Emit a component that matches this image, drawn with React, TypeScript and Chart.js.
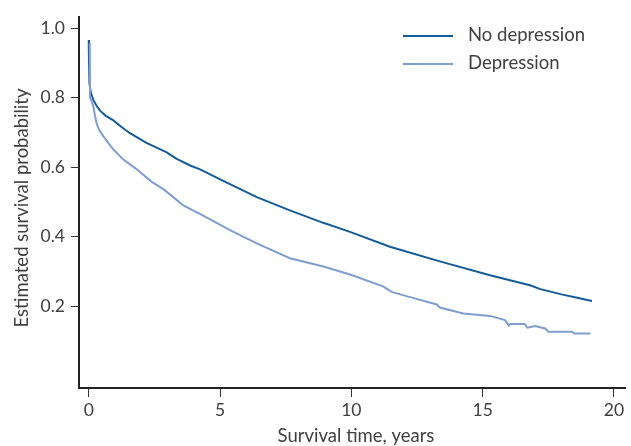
import React, { useEffect, useRef } from "react";
import { Chart, registerables } from "chart.js";

Chart.register(...registerables);

const noDepTime = [0, 0.01, 0.03, 0.08, 0.18, 0.3, 0.43, 0.65, 0.94, 1.25, 1.57, 2.2, 2.97, 3.35, 3.86, 4.24, 5.12, 6.4, 7.66, 8.93, 9.95, 11.47, 13.37, 15.28, 16.8, 17.2, 18.0, 18.6, 19.16];
const noDepSurv = [0.966, 0.905, 0.84, 0.815, 0.793, 0.777, 0.763, 0.748, 0.735, 0.716, 0.698, 0.67, 0.643, 0.624, 0.605, 0.594, 0.561, 0.514, 0.476, 0.44, 0.414, 0.371, 0.329, 0.289, 0.26, 0.249, 0.234, 0.224, 0.215];

const depTime = [0.04, 0.05, 0.1, 0.18, 0.24, 0.3, 0.4, 0.56, 0.94, 1.32, 1.83, 2.4, 2.84, 3.22, 3.6, 4.36, 5.38, 6.4, 7.66, 8.93, 9.57, 9.95, 11.21, 11.53, 12.1, 13.25, 13.37, 14.26, 15.28, 15.85, 16.0, 16.05, 16.6, 16.7, 17.0, 17.4, 17.5, 18.4, 18.5, 19.1];
const depSurv = [0.958, 0.8, 0.793, 0.774, 0.748, 0.727, 0.707, 0.689, 0.651, 0.622, 0.594, 0.558, 0.537, 0.514, 0.49, 0.461, 0.419, 0.381, 0.338, 0.314, 0.3, 0.291, 0.257, 0.241, 0.229, 0.205, 0.196, 0.179, 0.172, 0.16, 0.144, 0.149, 0.149, 0.138, 0.143, 0.135, 0.126, 0.126, 0.121, 0.121];

const xTicks = [0, 5, 10, 15, 20];
const yTicks = [0.2, 0.4, 0.6, 0.8, 1.0];
const seriesNames = ["No depression", "Depression"];
const seriesColors = ["#145c99", "#7f9ecf"];
const xTitle = "Survival time, years";
const yTitle = "Estimated survival probability";

const FONT = "Lato, 'DejaVu Sans', sans-serif";
const TEXT = "#404040";

export default function App() {
  const ref = useRef<HTMLCanvasElement>(null);
  useEffect(() => {
    document.body.style.margin = "0";
    const toPts = (t: number[], s: number[]) => t.map((x, i) => ({ x, y: s[i] }));
    const overlay = {
      id: "overlay",
      afterDraw(chart: any) {
        const ctx = chart.ctx;
        ctx.save();
        ctx.fillStyle = TEXT;
        ctx.font = `18.5px ${FONT}`;
        ctx.textAlign = "center";
        ctx.textBaseline = "middle";
        ctx.fillText(xTitle, 356, 436);
        ctx.save();
        ctx.translate(22, 208);
        ctx.rotate(-Math.PI / 2);
        ctx.fillText(yTitle, 0, 0);
        ctx.restore();
        // legend
        const ys = [36, 64];
        seriesNames.forEach((n, i) => {
          ctx.strokeStyle = seriesColors[i];
          ctx.lineWidth = 2;
          ctx.beginPath();
          ctx.moveTo(403, ys[i]);
          ctx.lineTo(453, ys[i]);
          ctx.stroke();
          ctx.textAlign = "left";
          ctx.fillStyle = TEXT;
          ctx.fillText(n, 468, ys[i] - 1);
        });
        ctx.restore();
      },
    };
    const chart = new Chart(ref.current!, {
      type: "scatter",
      data: {
        datasets: [
          { label: seriesNames[1], data: toPts(depTime, depSurv), showLine: true, borderColor: seriesColors[1], borderWidth: 2, pointRadius: 0, tension: 0 },
          { label: seriesNames[0], data: toPts(noDepTime, noDepSurv), showLine: true, borderColor: seriesColors[0], borderWidth: 2, pointRadius: 0, tension: 0 },
        ],
      },
      options: {
        animation: false,
        responsive: false,
        layout: { padding: { top: 12, right: 6, left: 0, bottom: 0 } },
        plugins: { legend: { display: false }, tooltip: { enabled: false } },
        scales: {
          x: {
            type: "linear",
            min: -0.37,
            max: 20.42,
            afterBuildTicks: (s: any) => { s.ticks = xTicks.map((v) => ({ value: v })); },
            afterFit: (s: any) => { s.height = 58; },
            grid: { display: true, drawOnChartArea: false, drawTicks: true, tickLength: 9, tickColor: "#333", tickWidth: 1 },
            border: { display: true, color: "#222", width: 2 },
            ticks: { color: TEXT, font: { family: FONT, size: 17.5 }, padding: 3, maxRotation: 0 },
          },
          y: {
            type: "linear",
            min: -0.0356,
            max: 1.034,
            afterBuildTicks: (s: any) => { s.ticks = yTicks.map((v) => ({ value: v })); },
            afterFit: (s: any) => { s.width = 79; },
            grid: { display: true, drawOnChartArea: false, drawTicks: true, tickLength: 8, tickColor: "#333", tickWidth: 1 },
            border: { display: true, color: "#222", width: 2 },
            ticks: { color: TEXT, font: { family: FONT, size: 17.5 }, padding: 6, callback: (v: any) => Number(v).toFixed(1) },
          },
        },
      },
      plugins: [overlay],
    });
    return () => chart.destroy();
  }, []);
  return (
    <div style={{ width: 631, height: 446 }}>
      <canvas ref={ref} width={631} height={446} />
    </div>
  );
}
